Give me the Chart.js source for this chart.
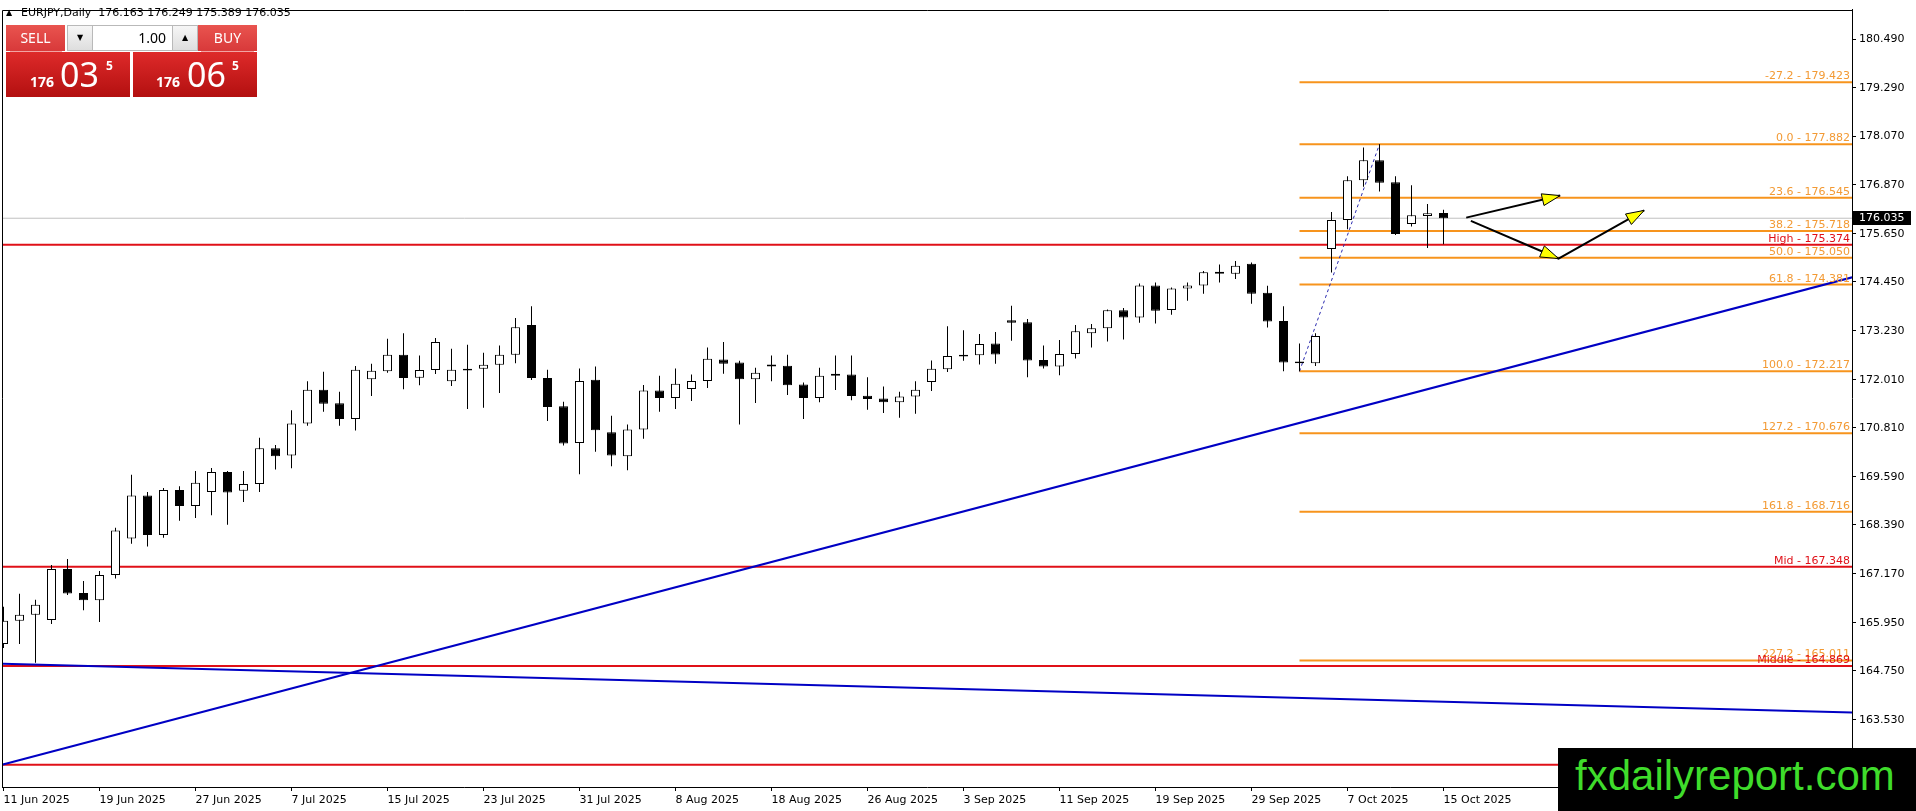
<!DOCTYPE html>
<html>
<head>
<meta charset="utf-8">
<script src="https://cdn.jsdelivr.net/npm/chart.js@4.4.0/dist/chart.umd.min.js"></script>
<style>
html,body{margin:0;padding:0;background:#fff;overflow:hidden;}
#wrap{position:relative;width:1916px;height:811px;}
#c{position:absolute;left:0;top:0;}
.abs{position:absolute;}
#tri{left:6px;top:8px;font:8px "DejaVu Sans",sans-serif;color:#000;}
#title{left:21px;top:6px;font:11px "DejaVu Sans",sans-serif;line-height:13px;color:#000;white-space:pre;}
.btn{top:25px;width:59px;height:26px;background:linear-gradient(#e9544f,#d8393a);color:#fff;font:14px "Noto Sans",sans-serif;line-height:26px;text-align:center;}
.sep{top:51px;height:1px;background:#f2a3a3;}
.box{top:52px;width:124px;height:45px;background:linear-gradient(#de2a2a,#b31010);}
.sm{font:bold 14px "Noto Sans",sans-serif;color:#fff;line-height:14px;}
.big{font:34px "Noto Sans",sans-serif;color:#fff;line-height:34px;}
.sup{font:bold 12px "Noto Sans",sans-serif;color:#fff;line-height:12px;}
#spin{left:67px;top:25px;width:129px;height:24px;border:1px solid #b9b9b9;background:#fff;}
.sb{top:0;width:24px;height:24px;background:linear-gradient(#f6f6f6,#dedede);font:8px "DejaVu Sans",sans-serif;line-height:24px;text-align:center;color:#000;}
#lot{left:26px;top:0;width:72px;height:24px;font:14px "Noto Sans",sans-serif;line-height:24px;text-align:right;color:#000;}
#wm{left:1558px;top:748px;width:358px;height:63px;background:#000;}
#wmt{left:17px;top:7px;font:42px "Liberation Sans",Arial,sans-serif;line-height:42px;color:#3fdc2b;white-space:nowrap;}
</style>
</head>
<body>
<div id="wrap">
<canvas id="c" width="1916" height="811"></canvas>
<div class="abs" id="tri">▲</div>
<div class="abs" id="title">EURJPY,Daily  176.163 176.249 175.389 176.035</div>
<div class="abs btn" style="left:6px;">SELL</div>
<div class="abs sep" style="left:10px;width:52px;"></div>
<div class="abs" id="spin">
  <div class="abs sb" style="left:0;border-right:1px solid #b9b9b9;">▼</div>
  <div class="abs" id="lot">1.00</div>
  <div class="abs sb" style="left:104px;border-left:1px solid #b9b9b9;">▲</div>
</div>
<div class="abs btn" style="left:198px;">BUY</div>
<div class="abs sep" style="left:201px;width:53px;"></div>
<div class="abs box" style="left:6px;">
  <div class="abs sm" style="left:24px;top:23px;">176</div>
  <div class="abs big" style="left:54px;top:5px;">03</div>
  <div class="abs sup" style="left:100px;top:8px;">5</div>
</div>
<div class="abs box" style="left:133px;">
  <div class="abs sm" style="left:23px;top:23px;">176</div>
  <div class="abs big" style="left:54px;top:5px;">06</div>
  <div class="abs sup" style="left:99px;top:8px;">5</div>
</div>
<div class="abs" id="wm"><div class="abs" id="wmt">fxdailyreport.com</div></div>
</div>
<script>
// ---------- data ----------
const xTickIdx = [0,6,12,18,24,30,36,42,48,54,60,66,72,78,84,90];
const xTickLabels = ['11 Jun 2025','19 Jun 2025','27 Jun 2025','7 Jul 2025','15 Jul 2025','23 Jul 2025',
  '31 Jul 2025','8 Aug 2025','18 Aug 2025','26 Aug 2025','3 Sep 2025','11 Sep 2025','19 Sep 2025',
  '29 Sep 2025','7 Oct 2025','15 Oct 2025'];
const yTickValues = [180.49,179.29,178.07,176.87,175.65,174.45,173.23,172.01,170.81,169.59,168.39,167.17,165.95,164.75,163.53,162.31];

const opens = [165.42,166.00,166.15,166.02,167.29,166.69,166.51,167.14,168.05,169.12,
168.14,169.26,168.86,169.21,169.71,169.24,169.41,170.30,170.12,170.92,
171.76,171.42,171.03,172.02,172.22,172.63,172.06,172.25,171.97,172.28,
172.28,172.38,172.63,173.37,172.05,171.35,170.43,172.01,170.70,170.10,
170.77,171.74,171.55,171.78,171.98,172.51,172.44,172.02,172.39,172.36,
171.89,171.55,172.11,172.14,171.61,171.54,171.45,171.59,171.95,172.27,
172.63,172.62,172.91,173.49,173.44,172.50,172.34,172.65,173.17,173.29,
173.74,173.56,174.36,173.75,174.28,174.36,174.70,174.65,174.90,174.18,
173.47,172.46,172.42,175.27,175.99,176.98,177.48,176.93,175.89,176.09,
176.163];
const highs = [166.35,166.67,166.52,167.39,167.54,166.99,167.24,168.32,169.64,169.21,
169.31,169.35,169.73,169.81,169.73,169.73,170.56,170.38,171.25,171.97,
172.21,171.71,172.35,172.41,173.03,173.17,172.61,173.05,172.78,172.88,
172.68,172.86,173.55,173.84,172.26,171.46,172.29,172.34,171.11,170.89,
171.88,172.11,172.29,172.14,172.81,172.95,172.48,172.31,172.61,172.63,
171.94,172.31,172.61,172.61,172.07,171.84,171.71,171.97,172.49,173.34,
173.24,173.15,173.20,173.85,173.52,172.86,173.00,173.37,173.40,173.76,
173.80,174.41,174.43,174.31,174.43,174.72,174.88,174.97,174.93,174.35,
173.84,172.91,173.17,176.19,177.08,177.80,177.882,177.08,176.86,176.39,
176.249];
const lows = [165.32,165.42,164.95,165.92,166.64,166.26,165.97,167.05,167.92,167.85,
168.07,168.49,168.56,168.63,168.39,168.96,169.21,169.77,169.80,170.86,
171.21,170.86,170.74,171.60,172.18,171.77,171.87,172.15,171.85,171.28,
171.31,171.68,172.42,172.00,170.98,170.37,169.65,170.21,169.85,169.75,
170.54,171.21,171.28,171.48,171.80,172.16,170.89,171.43,171.97,171.63,
171.03,171.45,171.75,171.50,171.26,171.18,171.06,171.16,171.73,172.20,
172.48,172.39,172.41,172.98,172.07,172.29,172.12,172.54,172.81,172.96,
173.01,173.43,173.41,173.63,173.98,174.15,174.43,174.52,173.90,173.31,
172.22,172.217,172.35,174.68,175.76,176.82,176.70,175.62,175.83,175.29,
175.389];
const closes = [166.00,166.15,166.40,167.29,166.68,166.51,167.14,168.25,169.12,168.14,
169.26,168.86,169.44,169.71,169.20,169.41,170.30,170.10,170.92,171.76,
171.41,171.03,172.26,172.23,172.63,172.05,172.25,172.95,172.26,172.24,
172.38,172.63,173.32,172.05,171.33,170.42,171.98,170.75,170.12,170.77,
171.74,171.55,171.91,171.98,172.53,172.41,172.02,172.18,172.34,171.87,
171.55,172.11,172.16,171.60,171.53,171.45,171.59,171.76,172.28,172.60,
172.59,172.90,172.64,173.43,172.49,172.34,172.65,173.22,173.29,173.74,
173.56,174.36,173.73,174.28,174.36,174.69,174.65,174.85,174.15,173.46,
172.44,172.42,173.10,175.99,176.98,177.48,176.92,175.64,176.11,176.16,
176.035];

const fibLevels = ['-27.2','0.0','23.6','38.2','50.0','61.8','100.0','127.2','161.8','227.2'];
const fibPrices = [179.423,177.882,176.545,175.718,175.050,174.381,172.217,170.676,168.716,165.011];
const fibStartIdx = 81;
const fibSwing = [{x:81,y:172.217},{x:86,y:177.882}];
const redNames = ['High','Mid','Middle',''];
const redPrices = [175.374,167.348,164.869,162.41];
const trendUp = [{x:-0.04,y:162.416},{x:115.54,y:174.562}];
const trendDown = [{x:-0.04,y:164.928},{x:115.54,y:163.709}];
const arrowA = [{x:91.42,y:176.05},{x:97.29,y:176.60}];
const arrowB = [{x:91.71,y:175.97},{x:97.19,y:175.03},{x:102.54,y:176.23}];
const lastPrice = 176.035;

const X_MIN = -0.09375, X_MAX = 115.53125;
const Y_MAX = 181.2366, Y_MIN = 161.8546;

// ---------- styles ----------
const FIB_LINE = '#f7941d', FIB_TEXT = '#f39a34', RED = '#e01018', BLUE = '#0000c4';
const FONT = '"DejaVu Sans", sans-serif';

const datasets = [];
datasets.push({
  type:'bar', label:'body', order:0, grouped:false,
  data: opens.map((o,i)=>({x:i, y:[o, closes[i]]})),
  backgroundColor: opens.map((o,i)=> closes[i] >= o ? '#ffffff' : '#000000'),
  borderColor:'#000', borderWidth:1, borderSkipped:false, barThickness:9, minBarLength:1, inflateAmount:0
});
datasets.push({
  type:'bar', label:'wick', order:1, grouped:false,
  data: lows.map((l,i)=>({x:i, y:[l, highs[i]]})),
  backgroundColor:'#000', borderWidth:0, barThickness:1, inflateAmount:0
});
function lineDs(data, color, width, extra){
  return Object.assign({type:'line', data, borderColor:color, borderWidth:width, pointRadius:0,
    tension:0, fill:false, order:5}, extra||{});
}
datasets.push(lineDs([{x:X_MIN,y:lastPrice},{x:X_MAX,y:lastPrice}], '#c0c0c0', 1, {order:9}));
fibPrices.forEach(p => datasets.push(lineDs([{x:fibStartIdx,y:p},{x:X_MAX,y:p}], FIB_LINE, 2, {order:6})));
redPrices.forEach(p => datasets.push(lineDs([{x:X_MIN,y:p},{x:X_MAX,y:p}], RED, 2, {order:6})));
datasets.push(lineDs(trendUp, BLUE, 2, {order:4}));
datasets.push(lineDs(trendDown, BLUE, 2, {order:4}));
datasets.push(lineDs(fibSwing, '#2a2ab0', 1, {order:3, borderDash:[3,3]}));
datasets.push(lineDs(arrowA, '#000', 2, {order:2}));
datasets.push(lineDs(arrowB, '#000', 2, {order:2}));

function arrowHead(ctx, fx, fy, tx, ty){
  const ang = Math.atan2(ty-fy, tx-fx), len = 18, hw = 6;
  const bx = tx - Math.cos(ang)*len, by = ty - Math.sin(ang)*len;
  const nx = -Math.sin(ang)*hw, ny = Math.cos(ang)*hw;
  ctx.beginPath();
  ctx.moveTo(tx,ty); ctx.lineTo(bx+nx,by+ny); ctx.lineTo(bx-nx,by-ny); ctx.closePath();
  ctx.fillStyle = '#ffff00'; ctx.fill();
  ctx.strokeStyle = '#000'; ctx.lineWidth = 1; ctx.stroke();
}

const overlay = {
  id:'overlay',
  beforeDraw(chart){
    const c = chart.ctx; c.save(); c.fillStyle = '#fff'; c.fillRect(0,0,chart.width,chart.height); c.restore();
  },
  afterDatasetsDraw(chart){
    const {ctx, chartArea:a, scales:{x, y}} = chart;
    ctx.save();
    ctx.font = '11px ' + FONT;
    ctx.textAlign = 'right'; ctx.textBaseline = 'alphabetic';
    fibPrices.forEach((p,i)=>{
      ctx.fillStyle = FIB_TEXT;
      ctx.fillText(fibLevels[i] + ' - ' + p.toFixed(3), a.right - 2, y.getPixelForValue(p) - 3);
    });
    redPrices.forEach((p,i)=>{
      if (!redNames[i]) return;
      ctx.fillStyle = RED;
      ctx.fillText(redNames[i] + ' - ' + p.toFixed(3), a.right - 2, y.getPixelForValue(p) - 3);
    });
    const P = pt => [x.getPixelForValue(pt.x), y.getPixelForValue(pt.y)];
    const a0 = P(arrowA[0]), a1 = P(arrowA[1]);
    arrowHead(ctx, a0[0], a0[1], a1[0], a1[1]);
    const b0 = P(arrowB[0]), b1 = P(arrowB[1]), b2 = P(arrowB[2]);
    arrowHead(ctx, b0[0], b0[1], b1[0], b1[1]);
    arrowHead(ctx, b1[0], b1[1], b2[0], b2[1]);
    ctx.strokeStyle = '#000'; ctx.lineWidth = 1;
    ctx.beginPath();
    ctx.moveTo(Math.round(a.left)+0.5, a.bottom);
    ctx.lineTo(Math.round(a.left)+0.5, Math.round(a.top)+0.5);
    ctx.lineTo(a.right, Math.round(a.top)+0.5);
    ctx.stroke();
    ctx.restore();
  },
  afterDraw(chart){
    const {ctx, chartArea:a, scales:{y}} = chart;
    const py = Math.round(y.getPixelForValue(lastPrice));
    ctx.save();
    ctx.fillStyle = '#000';
    ctx.fillRect(a.right + 1, py - 7, 58, 14);
    ctx.fillStyle = '#fff';
    ctx.font = '11px ' + FONT;
    ctx.textAlign = 'left'; ctx.textBaseline = 'middle';
    ctx.fillText(lastPrice.toFixed(3), a.right + 7, py + 0.5);
    ctx.restore();
  }
};

Chart.defaults.font.family = FONT;
Chart.defaults.font.size = 11;
Chart.defaults.color = '#000';

new Chart(document.getElementById('c'), {
  type:'bar',
  data:{datasets},
  options:{
    responsive:false, animation:false, devicePixelRatio:1, events:[],
    layout:{padding:{left:2, top:3, right:0, bottom:0}},
    plugins:{legend:{display:false}, tooltip:{enabled:false}},
    scales:{
      x:{
        type:'linear', position:'bottom', min:X_MIN, max:X_MAX, offset:false,
        grid:{drawOnChartArea:false, drawTicks:true, tickLength:4, color:'#000', offset:false},
        border:{display:true, color:'#000', width:1},
        ticks:{autoSkip:false, maxRotation:0, minRotation:0, align:'start', padding:3, color:'#000',
          callback:(v, i)=> xTickLabels[i]},
        afterBuildTicks: s => { s.ticks = xTickIdx.map(v=>({value:v})); },
        afterFit: s => { s.height = 24; }
      },
      y:{
        type:'linear', position:'right', min:Y_MIN, max:Y_MAX, beginAtZero:false,
        grid:{drawOnChartArea:false, drawTicks:true, tickLength:4, color:'#000'},
        border:{display:true, color:'#000', width:1},
        ticks:{autoSkip:false, padding:3, color:'#000', callback:v=> Number(v).toFixed(3)},
        afterBuildTicks: s => { s.ticks = yTickValues.map(v=>({value:v})); },
        afterFit: s => { s.width = 64; }
      }
    }
  },
  plugins:[overlay]
});
</script>
</body>
</html>
